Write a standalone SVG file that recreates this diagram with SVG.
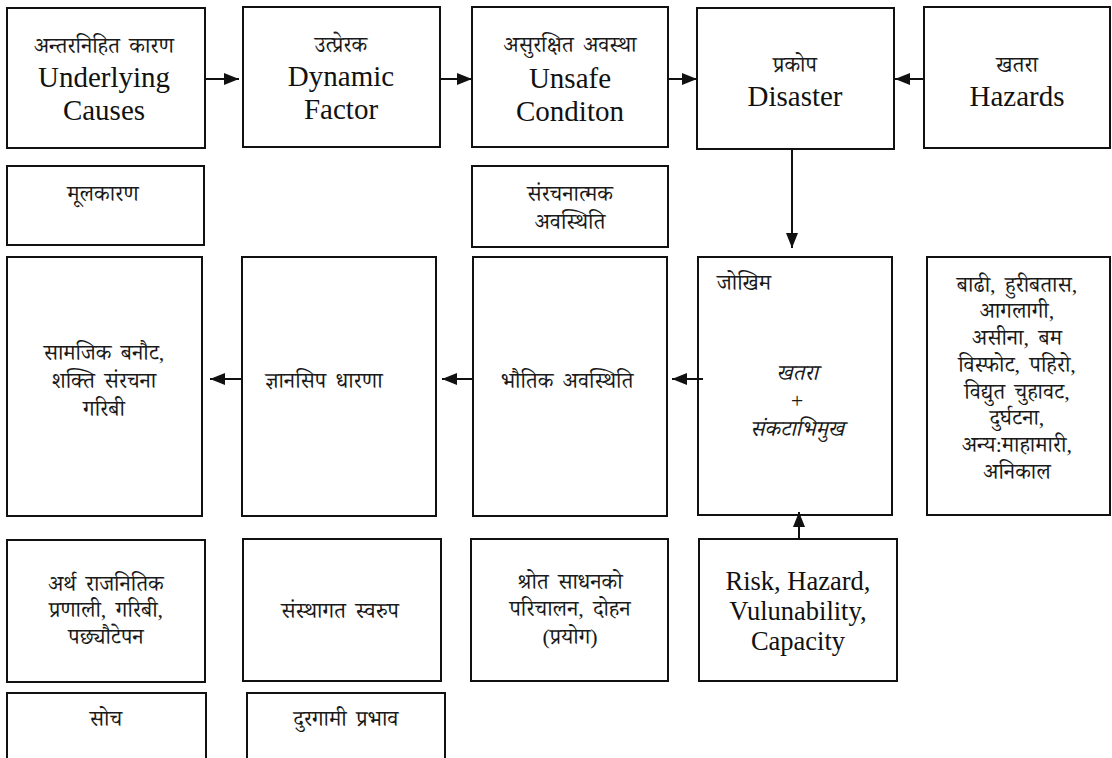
<svg xmlns="http://www.w3.org/2000/svg" width="1112" height="758" viewBox="0 0 1112 758">
<style>
.box{fill:#fff;stroke:#111;stroke-width:2}
.dv{font-family:"Liberation Serif","Noto Serif Devanagari","Noto Sans Devanagari","Lohit Devanagari","Mukta","Kalimati",serif;font-size:22px;word-spacing:4px;fill:#1a1a1a;text-anchor:middle}
.en{font-family:"Liberation Serif","Times New Roman",serif;font-size:29px;fill:#111;text-anchor:middle}
.en2{font-family:"Liberation Serif","Times New Roman",serif;font-size:26.5px;fill:#111;text-anchor:middle}
.it{font-style:italic}
.con{stroke:#111;stroke-width:2;fill:none;marker-end:url(#ah)}
</style>
<defs>
<marker id="ah" markerUnits="userSpaceOnUse" markerWidth="16" markerHeight="14" refX="15" refY="7" orient="auto">
<path d="M0,1 L15,7 L0,13 z" fill="#111"/>
</marker>
</defs>
<rect width="1112" height="758" fill="#fff"/>

<g id="underlying">
<rect class="box" x="7" y="8" width="198" height="140"/>
<text class="dv" x="104" y="53">अन्तरनिहित कारण</text>
<text class="en" x="104" y="87">Underlying</text>
<text class="en" x="104" y="120">Causes</text>
</g>
<g id="dynamic">
<rect class="box" x="243" y="7" width="197" height="140"/>
<text class="dv" x="341" y="52">उत्प्रेरक</text>
<text class="en" x="341" y="86">Dynamic</text>
<text class="en" x="341" y="119">Factor</text>
</g>
<g id="unsafe">
<rect class="box" x="472" y="7" width="196" height="140"/>
<text class="dv" x="570" y="52">असुरक्षित अवस्था</text>
<text class="en" x="570" y="88">Unsafe</text>
<text class="en" x="570" y="121">Conditon</text>
</g>
<g id="disaster">
<rect class="box" x="697" y="8" width="197" height="141"/>
<text class="dv" x="795" y="72">प्रकोप</text>
<text class="en" x="795" y="106">Disaster</text>
</g>
<g id="hazards">
<rect class="box" x="924" y="7" width="186" height="141"/>
<text class="dv" x="1017" y="72">खतरा</text>
<text class="en" x="1017" y="106">Hazards</text>
</g>

<g id="mulkaran">
<rect class="box" x="7" y="166" width="197" height="79"/>
<text class="dv" x="103" y="201">मूलकारण</text>
</g>
<g id="sanrachanatmak">
<rect class="box" x="472" y="166" width="196" height="81"/>
<text class="dv" x="570" y="201">संरचनात्मक</text>
<text class="dv" x="570" y="229">अवस्थिति</text>
</g>

<g id="samajik">
<rect class="box" x="7" y="257" width="195" height="259"/>
<text class="dv" x="104" y="360">सामजिक बनौट,</text>
<text class="dv" x="104" y="388">शक्ति संरचना</text>
<text class="dv" x="104" y="416">गरिबी</text>
</g>
<g id="gyansip">
<rect class="box" x="242" y="257" width="194" height="259"/>
<text class="dv" x="324" y="388">ज्ञानसिप धारणा</text>
</g>
<g id="bhautik">
<rect class="box" x="473" y="257" width="194" height="259"/>
<text class="dv" x="567" y="388">भौतिक अवस्थिति</text>
</g>
<g id="jokhim">
<rect class="box" x="698" y="257" width="194" height="258"/>
<text class="dv" x="717" y="290" style="text-anchor:start">जोखिम</text>
<text class="dv it" x="797" y="380">खतरा</text>
<text class="dv it" x="797" y="408">+</text>
<text class="dv it" x="797" y="436">संकटाभिमुख</text>
</g>
<g id="hazardlist">
<rect class="box" x="927" y="257" width="183" height="258"/>
<text class="dv" x="1017" y="292">बाढी, हुरीबतास,</text>
<text class="dv" x="1017" y="318">आगलागी,</text>
<text class="dv" x="1017" y="345">असीना, बम</text>
<text class="dv" x="1017" y="372">विस्फोट, पहिरो,</text>
<text class="dv" x="1017" y="399">विद्युत चुहावट,</text>
<text class="dv" x="1017" y="425">दुर्घटना,</text>
<text class="dv" x="1017" y="452">अन्य:माहामारी,</text>
<text class="dv" x="1017" y="479">अनिकाल</text>
</g>

<g id="artha">
<rect class="box" x="7" y="540" width="198" height="142"/>
<text class="dv" x="106" y="591">अर्थ राजनितिक</text>
<text class="dv" x="106" y="617">प्रणाली, गरिबी,</text>
<text class="dv" x="106" y="644">पछ्यौटेपन</text>
</g>
<g id="sansthagat">
<rect class="box" x="243" y="539" width="198" height="142"/>
<text class="dv" x="340" y="618">संस्थागत स्वरुप</text>
</g>
<g id="shrot">
<rect class="box" x="471" y="539" width="197" height="142"/>
<text class="dv" x="570" y="589">श्रोत साधनको</text>
<text class="dv" x="570" y="616">परिचालन, दोहन</text>
<text class="dv" x="570" y="644">(प्रयोग)</text>
</g>
<g id="risk">
<rect class="box" x="699" y="539" width="198" height="142"/>
<text class="en2" x="798" y="590">Risk, Hazard,</text>
<text class="en2" x="798" y="620">Vulunability,</text>
<text class="en2" x="798" y="650">Capacity</text>
</g>

<g id="soch">
<rect class="box" x="7" y="693" width="199" height="80"/>
<text class="dv" x="106" y="726">सोच</text>
</g>
<g id="durgami">
<rect class="box" x="247" y="693" width="198" height="80"/>
<text class="dv" x="346" y="726">दुरगामी प्रभाव</text>
</g>

<g id="connectors">
<line class="con" x1="206" y1="79" x2="239" y2="79"/>
<line class="con" x1="441" y1="79" x2="472" y2="79"/>
<line class="con" x1="669" y1="79" x2="697" y2="79"/>
<line class="con" x1="924" y1="79" x2="895" y2="79"/>
<line class="con" x1="792" y1="149" x2="792" y2="248"/>
<line class="con" x1="703" y1="379" x2="672" y2="379"/>
<line class="con" x1="473" y1="379" x2="442" y2="379"/>
<line class="con" x1="242" y1="379" x2="210" y2="379"/>
<line class="con" x1="799" y1="539" x2="799" y2="512"/>
</g>
</svg>
